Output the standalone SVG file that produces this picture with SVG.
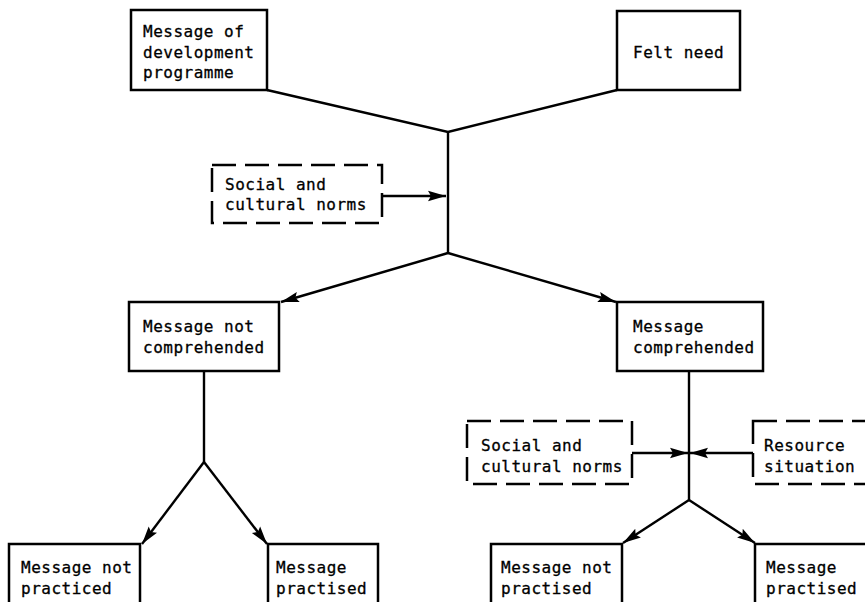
<svg xmlns="http://www.w3.org/2000/svg" width="865" height="602" viewBox="0 0 865 602">
<defs>
<style>
.box{fill:#fff;stroke:#000;stroke-width:2.5}
.dash{fill:#fff;stroke:#000;stroke-width:2.5;stroke-dasharray:24 9}
.ln{fill:none;stroke:#000;stroke-width:2.4}
.arr{fill:none;stroke:#000;stroke-width:2.4;marker-end:url(#ah)}
text{font-family:"DejaVu Sans Mono","Liberation Mono",monospace;font-size:16px;letter-spacing:0.5px;fill:#000;stroke:#000;stroke-width:0.3}
</style>
<marker id="ah" markerUnits="userSpaceOnUse" markerWidth="20" markerHeight="12" refX="18" refY="6" orient="auto">
<path d="M0,0.8 L18,6 L0,11.2 L3,6 z" fill="#000"/>
</marker>
</defs>
<rect width="865" height="602" fill="#fff"/>
<g id="connectors">
<polyline class="ln" points="267,90 448,132 617,90"/>
<line class="ln" x1="448" y1="132" x2="448" y2="253"/>
<line class="arr" x1="382" y1="196" x2="446" y2="196"/>
<line class="arr" x1="448" y1="253" x2="281" y2="302"/>
<line class="arr" x1="448" y1="253" x2="616" y2="302"/>
<line class="ln" x1="204" y1="371" x2="204" y2="462"/>
<line class="arr" x1="204" y1="462" x2="142" y2="544"/>
<line class="arr" x1="204" y1="462" x2="267" y2="544"/>
<line class="ln" x1="689" y1="371" x2="689" y2="500"/>
<line class="arr" x1="632" y1="453" x2="688" y2="453"/>
<line class="arr" x1="753" y1="453" x2="690" y2="453"/>
<line class="arr" x1="689" y1="500" x2="623" y2="543"/>
<line class="arr" x1="689" y1="500" x2="755" y2="543"/>
</g>
<g id="n-message-dev">
<rect class="box" x="131" y="10" width="136" height="80"/>
<text x="143" y="37">Message of</text>
<text x="143" y="57.5">development</text>
<text x="143" y="78">programme</text>
</g>
<g id="n-felt-need">
<rect class="box" x="617" y="11" width="123" height="79"/>
<text x="633" y="58">Felt need</text>
</g>
<g id="n-norms-top">
<rect class="dash" x="212" y="165" width="170" height="58"/>
<text x="225" y="190">Social and</text>
<text x="225" y="210">cultural norms</text>
</g>
<g id="n-not-comprehended">
<rect class="box" x="129" y="302" width="150" height="69"/>
<text x="143" y="332">Message not</text>
<text x="143" y="353">comprehended</text>
</g>
<g id="n-comprehended">
<rect class="box" x="617" y="302" width="146" height="69"/>
<text x="633" y="332">Message</text>
<text x="633" y="353">comprehended</text>
</g>
<g id="n-norms-bottom">
<rect class="dash" x="467" y="421" width="165" height="63"/>
<text x="481" y="451">Social and</text>
<text x="481" y="471.5">cultural norms</text>
</g>
<g id="n-resource">
<rect class="dash" x="753" y="421" width="130" height="63"/>
<text x="764" y="451">Resource</text>
<text x="764" y="471.5">situation</text>
</g>
<g id="n-not-practiced-left">
<rect class="box" x="9" y="544" width="131" height="80"/>
<text x="21" y="573">Message not</text>
<text x="21" y="593.5">practiced</text>
</g>
<g id="n-practised-left">
<rect class="box" x="268" y="544" width="110" height="80"/>
<text x="276" y="573">Message</text>
<text x="276" y="593.5">practised</text>
</g>
<g id="n-not-practised-right">
<rect class="box" x="491" y="544" width="131" height="80"/>
<text x="501" y="573">Message not</text>
<text x="501" y="593.5">practised</text>
</g>
<g id="n-practised-right">
<rect class="box" x="755" y="544" width="130" height="80"/>
<text x="766" y="573">Message</text>
<text x="766" y="593.5">practised</text>
</g>
</svg>
